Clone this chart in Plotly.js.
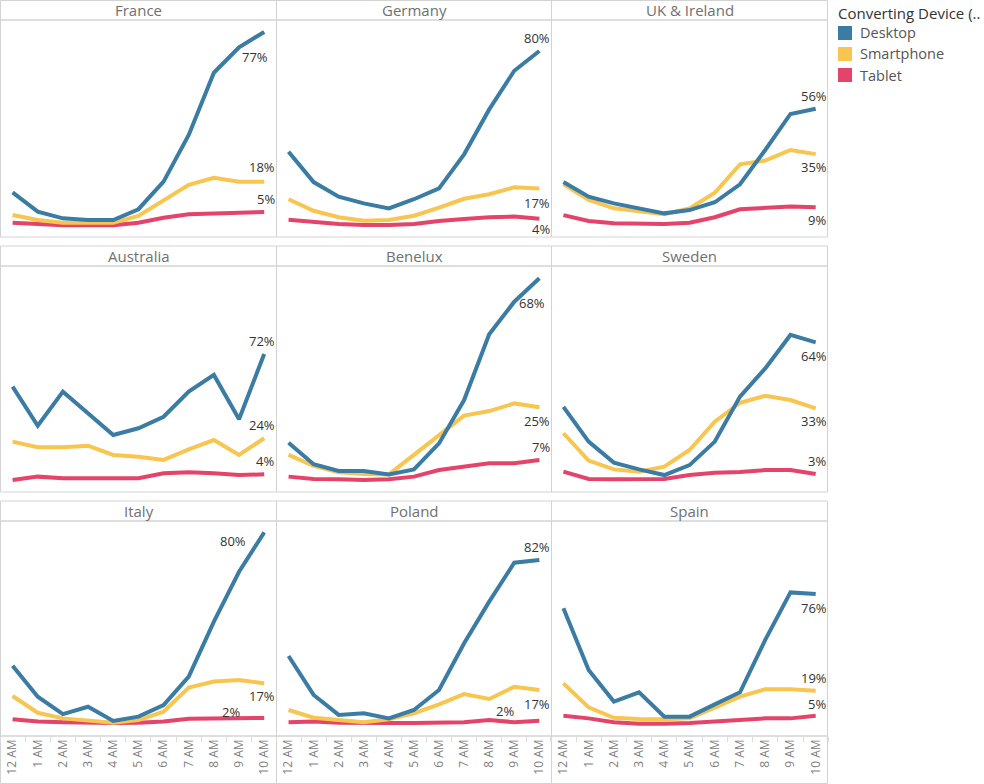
<!DOCTYPE html>
<html>
<head>
<meta charset="utf-8">
<script src="https://cdn.plot.ly/plotly-3.0.1.min.js"></script>
<style>
  html, body { margin: 0; padding: 0; background: #ffffff; }
  #chart { width: 984px; height: 784px; }
</style>
</head>
<body>
<div id="chart"></div>
<script>
// ---------------- DATA ----------------
const hours = ["12 AM","1 AM","2 AM","3 AM","4 AM","5 AM","6 AM","7 AM","8 AM","9 AM","10 AM"];
const countries = ["France","Germany","UK & Ireland","Australia","Benelux","Sweden","Italy","Poland","Spain"];
const devices = ["Desktop","Smartphone","Tablet"];

// conversion index per hour (relative, no axis shown)
const franceDesktop    = [20.6, 11.7, 8.6, 7.8, 7.8, 12.8, 25.5, 47.0, 75.7, 87.4, 94.5];
const franceSmartphone = [10.1, 7.8, 6.6, 6.6, 6.6, 9.7, 16.6, 24.0, 27.3, 25.5, 25.5];
const franceTablet     = [6.6, 5.9, 5.4, 5.4, 5.4, 6.6, 8.9, 10.5, 10.9, 11.2, 11.5];
const franceShare      = [77, 18, 5];

const germanyDesktop    = [39.3, 25.3, 18.6, 15.5, 13.2, 17.4, 22.4, 38.1, 58.8, 76.6, 85.7];
const germanySmartphone = [17.4, 12.1, 9.1, 7.5, 7.8, 9.8, 13.5, 17.6, 19.7, 22.9, 22.3];
const germanyTablet     = [8.0, 6.8, 6.0, 5.5, 5.5, 6.0, 7.4, 8.3, 9.1, 9.4, 8.4];
const germanyShare      = [80, 17, 4];

const ukDesktop    = [25.3, 18.6, 15.5, 13.4, 10.9, 12.4, 16.0, 24.3, 40.1, 56.7, 59.1];
const ukSmartphone = [24.4, 17.1, 13.2, 11.7, 10.5, 13.2, 20.4, 33.5, 35.2, 40.1, 38.2];
const ukTablet     = [10.1, 7.4, 6.3, 6.0, 6.0, 6.6, 9.1, 12.8, 13.5, 14.0, 13.7];
const ukShare      = [56, 35, 9];

const australiaDesktop    = [46.6, 29.3, 44.4, 34.8, 25.2, 28.2, 33.3, 44.4, 51.8, 32.2, 61.1];
const australiaSmartphone = [22.3, 19.8, 19.8, 20.5, 16.4, 15.6, 14.2, 18.9, 23.0, 16.4, 23.8];
const australiaTablet     = [5.3, 6.8, 6.1, 6.1, 6.1, 6.1, 8.3, 8.7, 8.3, 7.5, 7.8];
const australiaShare      = [72, 24, 4];

const beneluxDesktop    = [21.8, 12.3, 9.3, 9.3, 7.8, 10.0, 21.5, 40.7, 69.8, 84.2, 94.6];
const beneluxSmartphone = [16.4, 11.6, 8.7, 8.0, 7.8, 16.4, 25.5, 33.8, 35.8, 39.2, 37.5];
const beneluxTablet     = [6.8, 5.8, 5.6, 5.3, 5.6, 6.8, 9.7, 11.2, 12.7, 12.7, 14.2];
const beneluxShare      = [68, 25, 7];

const swedenDesktop    = [37.7, 22.3, 13.0, 10.0, 7.5, 11.9, 22.3, 42.2, 54.7, 69.5, 66.2];
const swedenSmartphone = [26.0, 13.9, 10.0, 9.0, 11.2, 18.6, 31.1, 39.5, 42.6, 40.7, 37.0];
const swedenTablet     = [9.0, 5.8, 5.6, 5.6, 5.8, 7.5, 8.5, 8.8, 9.7, 9.7, 8.0];
const swedenShare      = [64, 33, 3];

const italyDesktop    = [32.7, 18.3, 10.2, 13.6, 7.0, 9.0, 14.4, 27.6, 53.2, 76.4, 94.7];
const italySmartphone = [18.6, 10.8, 8.2, 7.1, 6.2, 7.4, 11.3, 22.5, 25.3, 26.0, 24.5];
const italyTablet     = [7.8, 6.7, 6.4, 6.0, 6.0, 6.2, 6.7, 8.0, 8.0, 8.0, 8.4];
const italyShare      = [80, 17, 2];

const polandDesktop    = [37.2, 19.1, 9.8, 10.6, 8.2, 12.1, 21.4, 43.1, 62.5, 80.6, 81.9];
const polandSmartphone = [12.1, 8.5, 7.4, 6.4, 7.8, 10.6, 14.7, 19.5, 17.2, 22.9, 21.4];
const polandTablet     = [6.4, 6.7, 6.2, 5.9, 6.0, 6.0, 6.2, 6.4, 7.4, 6.4, 7.1];
const polandShare      = [82, 17, 2];

const spainDesktop    = [59.4, 30.7, 16.0, 20.3, 9.0, 9.0, 14.7, 20.3, 44.7, 66.8, 66.0];
const spainSmartphone = [24.5, 13.3, 8.5, 7.9, 7.8, 8.2, 13.2, 18.3, 21.7, 21.7, 21.1];
const spainTablet     = [9.4, 8.2, 6.4, 5.7, 5.7, 6.0, 6.8, 7.3, 8.2, 8.2, 9.4];
const spainShare      = [76, 19, 5];

// ---------------- STYLE / LAYOUT CONFIG ----------------
const panelSeries = [
  [franceDesktop, franceSmartphone, franceTablet, franceShare],
  [germanyDesktop, germanySmartphone, germanyTablet, germanyShare],
  [ukDesktop, ukSmartphone, ukTablet, ukShare],
  [australiaDesktop, australiaSmartphone, australiaTablet, australiaShare],
  [beneluxDesktop, beneluxSmartphone, beneluxTablet, beneluxShare],
  [swedenDesktop, swedenSmartphone, swedenTablet, swedenShare],
  [italyDesktop, italySmartphone, italyTablet, italyShare],
  [polandDesktop, polandSmartphone, polandTablet, polandShare],
  [spainDesktop, spainSmartphone, spainTablet, spainShare]
];

const colors = { Desktop: "#3b7ca4", Smartphone: "#f8c550", Tablet: "#e4446a" };

// label placement relative to the last point: [dx, dy] (px), per device
const labelShift = [
  [[-9,-25],[-2,15],[2,13]],
  [[-2,13],[-2,-14],[2,-10]],
  [[-2,13],[-2,-13],[1,-13]],
  [[-2,13],[-2,13],[1,13]],
  [[-7,-25],[-2,-14],[2,13]],
  [[-2,-14],[-2,-13],[1,13]],
  [[-31,-9],[-2,-13],[-33,6]],
  [[-2,13],[-2,-14],[-34,10]],
  [[-2,-14],[-2,13],[1,12]]
];

const W = 984, H = 784;
const colPx = [[0, 276.8], [276, 551.9], [550.8, 828.3]];
const rowPx = [[20, 237], [266, 492], [521, 736]];       // plot areas (top, bottom)
const headerPx = [[0.5, 20], [246, 266], [501, 521]];
const edgeX = [0.5, 276.5, 551.5, 827.5];
const axisBottom = 783.5;

const px = p => p / W;
const py = p => 1 - p / H;

const FONT = "Open Sans, Noto Sans, sans-serif";

const traces = [];
const layout = {
  width: W, height: H,
  margin: {l: 0, r: 0, t: 0, b: 0},
  paper_bgcolor: "#ffffff",
  plot_bgcolor: "rgba(0,0,0,0)",
  showlegend: false,
  font: {family: FONT},
  shapes: [],
  annotations: []
};

const borderLine = {color: "#d3d3d3", width: 1};

for (let i = 0; i < 9; i++) {
  const r = Math.floor(i / 3), c = i % 3;
  const n = i === 0 ? "" : String(i + 1);
  const xa = "x" + n, ya = "y" + n;
  const ax = {
    domain: [px(colPx[c][0]), px(colPx[c][1])],
    range: [-0.5, 10.5],
    anchor: ya,
    showgrid: false, zeroline: false, showline: false,
    fixedrange: true,
    showticklabels: false,
    ticks: ""
  };
  if (r === 2) {
    Object.assign(ax, {
      showticklabels: true,
      tickmode: "array",
      tickvals: hours.map((h, k) => k),
      ticktext: hours,
      tickangle: -90,
      tickfont: {family: FONT, size: 12, color: "#808080"},
      minor: {tickmode: "linear", tick0: -0.5, dtick: 1, ticks: "outside", ticklen: 5, tickcolor: "#dcdcdc", tickwidth: 1, showgrid: false}
    });
  }
  layout["xaxis" + n] = ax;
  layout["yaxis" + n] = {
    domain: [py(rowPx[r][1]), py(rowPx[r][0])],
    range: [0, 100],
    anchor: xa,
    visible: false,
    fixedrange: true
  };

  const series = panelSeries[i];
  const shares = series[3];
  const last = hours.length - 1;
  // draw tablet, smartphone, then desktop on top
  [2, 1, 0].forEach(d => {
    traces.push({
      type: "scatter", mode: "lines",
      x: hours.map((h, k) => k), y: series[d],
      xaxis: xa, yaxis: ya,
      name: devices[d],
      line: {color: colors[devices[d]], width: 4},
      hoverinfo: "skip"
    });
  });
  // end labels
  for (let d = 0; d < 3; d++) {
    layout.annotations.push({
      xref: xa, yref: ya,
      x: last, y: series[d][last],
      text: shares[d] + "%",
      showarrow: false,
      xanchor: "center", yanchor: "middle",
      xshift: labelShift[i][d][0], yshift: labelShift[i][d][1],
      font: {family: FONT, size: 13, color: "#333333"}
    });
  }
  // header title
  layout.annotations.push({
    xref: "paper", yref: "paper",
    x: px((edgeX[c] + edgeX[c + 1]) / 2),
    y: py((headerPx[r][0] + headerPx[r][1]) / 2),
    text: countries[i],
    showarrow: false, xanchor: "center", yanchor: "middle",
    font: {family: FONT, size: 15, color: "#707070"}
  });
  // borders: header cell + plot cell
  layout.shapes.push({
    type: "rect", xref: "paper", yref: "paper", layer: "below",
    x0: px(edgeX[c]), x1: px(edgeX[c + 1]),
    y0: py(headerPx[r][1]), y1: py(headerPx[r][0]),
    line: borderLine, fillcolor: "rgba(0,0,0,0)"
  });
  layout.shapes.push({
    type: "rect", xref: "paper", yref: "paper", layer: "below",
    x0: px(edgeX[c]), x1: px(edgeX[c + 1]),
    y0: py(rowPx[r][1]), y1: py(headerPx[r][1]),
    line: borderLine, fillcolor: "rgba(0,0,0,0)"
  });
  if (r === 2) {
    layout.shapes.push({
      type: "rect", xref: "paper", yref: "paper", layer: "below",
      x0: px(edgeX[c]), x1: px(edgeX[c + 1]),
      y0: py(axisBottom), y1: py(rowPx[r][1]),
      line: borderLine, fillcolor: "rgba(0,0,0,0)"
    });
  }
}

// Legend (Tableau-style colour legend)
layout.annotations.push({
  xref: "paper", yref: "paper",
  x: px(836), y: py(13),
  text: "Converting Device (..",
  showarrow: false, xanchor: "left", yanchor: "middle",
  font: {family: FONT, size: 15, color: "#333333"}
});
const legendRowY = [33, 54, 75];
devices.forEach((dev, k) => {
  layout.shapes.push({
    type: "rect", xref: "paper", yref: "paper",
    x0: px(838), x1: px(852),
    y0: py(legendRowY[k] + 7), y1: py(legendRowY[k] - 7),
    line: {width: 0}, fillcolor: colors[dev]
  });
  layout.annotations.push({
    xref: "paper", yref: "paper",
    x: px(858), y: py(legendRowY[k]),
    text: dev,
    showarrow: false, xanchor: "left", yanchor: "middle",
    font: {family: FONT, size: 14.5, color: "#555555"}
  });
});

Plotly.newPlot("chart", traces, layout, {displayModeBar: false, staticPlot: true});
</script>
</body>
</html>
